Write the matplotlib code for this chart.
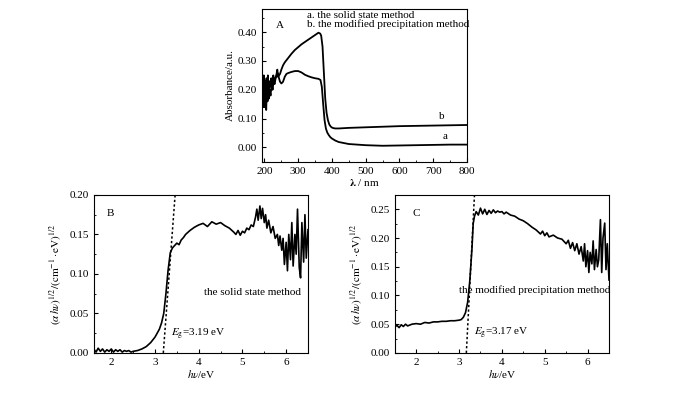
import matplotlib
matplotlib.use("Agg")
import matplotlib.pyplot as plt
from matplotlib.ticker import MultipleLocator, FormatStrFormatter

plt.rcParams["font.family"] = ["Liberation Serif", "DejaVu Serif"]
plt.rcParams["mathtext.fontset"] = "stix"
plt.rcParams["font.size"] = 8

# ---- panel A: absorbance spectra ----
wl_a = [195, 197, 199, 201, 203, 205, 207, 209, 211, 213, 215, 218, 221, 224, 227, 230,
        233, 236, 238, 240, 243, 246, 250, 255, 260, 265, 270, 280, 290, 300, 310, 320,
        330, 340, 350, 360, 366, 370, 374, 378, 382, 386, 390, 395, 400, 410, 420, 450,
        500, 550, 600, 650, 700, 750, 800]
abs_a = [0.19, 0.14, 0.24, 0.15, 0.21, 0.13, 0.20, 0.16, 0.22, 0.17, 0.20, 0.18, 0.22,
         0.20, 0.23, 0.22, 0.24, 0.25, 0.26, 0.255, 0.24, 0.228, 0.222, 0.228, 0.245,
         0.255, 0.258, 0.262, 0.265, 0.265, 0.26, 0.252, 0.247, 0.243, 0.240, 0.238,
         0.234, 0.21, 0.15, 0.095, 0.066, 0.052, 0.044, 0.036, 0.031, 0.024, 0.019,
         0.012, 0.008, 0.006, 0.007, 0.008, 0.009, 0.010, 0.010]

wl_b = [195, 196, 198, 200, 202, 204, 206, 208, 210, 212, 214, 217, 220, 223, 226, 229,
        232, 235, 238, 240, 243, 246, 250, 255, 260, 270, 280, 290, 300, 310, 320, 330,
        340, 350, 355, 360, 365, 368, 372, 376, 380, 384, 388, 392, 396, 400, 405, 410,
        420, 450, 500, 550, 600, 650, 700, 750, 800]
abs_b = [0.21, 0.16, 0.25, 0.14, 0.23, 0.17, 0.24, 0.18, 0.25, 0.19, 0.23, 0.21, 0.24,
         0.22, 0.25, 0.23, 0.24, 0.25, 0.27, 0.245, 0.25, 0.255, 0.27, 0.285, 0.295,
         0.31, 0.325, 0.338, 0.348, 0.358, 0.366, 0.374, 0.382, 0.39, 0.394, 0.398,
         0.395, 0.388, 0.35, 0.26, 0.17, 0.12, 0.095, 0.080, 0.073, 0.069, 0.067, 0.066,
         0.066, 0.068, 0.070, 0.072, 0.074, 0.075, 0.076, 0.077, 0.078]

# ---- panel B: solid state method, Tauc plot ----
e_b = [1.6, 1.65, 1.7, 1.75, 1.8, 1.85, 1.9, 1.95, 2.0, 2.05, 2.1, 2.15, 2.2, 2.25, 2.3,
       2.35, 2.4, 2.45, 2.5, 2.6, 2.7, 2.8, 2.9, 3.0, 3.1, 3.15, 3.2, 3.25, 3.3, 3.35,
       3.4, 3.45, 3.5, 3.55, 3.6, 3.65, 3.7, 3.8, 3.9, 4.0, 4.1, 4.2, 4.3, 4.4, 4.5, 4.6,
       4.7, 4.8, 4.85, 4.9, 4.95, 5.0, 5.05, 5.1, 5.15, 5.2, 5.25, 5.3, 5.33, 5.36, 5.4,
       5.43, 5.46, 5.5, 5.53, 5.56, 5.6, 5.65, 5.7, 5.75, 5.8, 5.83, 5.86, 5.9, 5.93,
       5.96, 6.0, 6.03, 6.06, 6.1, 6.13, 6.16, 6.2, 6.23, 6.26, 6.3, 6.33, 6.36, 6.4,
       6.43, 6.46, 6.5]
f_b = [0.005, 0.001, 0.006, 0.002, 0.005, 0.001, 0.004, 0.002, 0.005, 0.001, 0.004,
       0.002, 0.004, 0.001, 0.003, 0.002, 0.003, 0.001, 0.002, 0.003, 0.005, 0.008,
       0.013, 0.020, 0.030, 0.038, 0.050, 0.075, 0.105, 0.127, 0.133, 0.136, 0.139,
       0.137, 0.143, 0.146, 0.150, 0.155, 0.159, 0.162, 0.164, 0.160, 0.166, 0.163,
       0.165, 0.161, 0.158, 0.153, 0.150, 0.155, 0.149, 0.154, 0.152, 0.158, 0.156,
       0.162, 0.160, 0.172, 0.182, 0.168, 0.186, 0.170, 0.183, 0.165, 0.175, 0.158,
       0.168, 0.152, 0.160, 0.145, 0.150, 0.136, 0.148, 0.130, 0.145, 0.112, 0.140,
       0.104, 0.150, 0.118, 0.165, 0.110, 0.150, 0.125, 0.182, 0.108, 0.095, 0.165,
       0.115, 0.175, 0.120, 0.156]
eg_b = 3.19

# ---- panel C: modified precipitation method, Tauc plot ----
e_c = [1.5, 1.55, 1.6, 1.65, 1.7, 1.75, 1.8, 1.9, 2.0, 2.1, 2.2, 2.3, 2.4, 2.5, 2.6,
       2.7, 2.8, 2.9, 3.0, 3.05, 3.1, 3.15, 3.2, 3.25, 3.3, 3.33, 3.36, 3.4, 3.45, 3.5,
       3.55, 3.6, 3.65, 3.7, 3.75, 3.8, 3.85, 3.9, 3.95, 4.0, 4.05, 4.1, 4.2, 4.3, 4.4,
       4.5, 4.6, 4.7, 4.8, 4.9, 4.95, 5.0, 5.05, 5.1, 5.2, 5.3, 5.4, 5.5, 5.55, 5.6,
       5.65, 5.7, 5.75, 5.8, 5.85, 5.9, 5.93, 5.96, 6.0, 6.03, 6.06, 6.1, 6.13, 6.16,
       6.2, 6.23, 6.26, 6.3, 6.33, 6.36, 6.4, 6.43, 6.46, 6.5]
f_c = [0.045, 0.048, 0.044, 0.049, 0.046, 0.050, 0.047, 0.050, 0.051, 0.050, 0.053,
       0.052, 0.054, 0.054, 0.055, 0.055, 0.056, 0.056, 0.057, 0.058, 0.062, 0.070,
       0.088, 0.125, 0.180, 0.225, 0.238, 0.246, 0.240, 0.252, 0.242, 0.250, 0.241,
       0.248, 0.243, 0.249, 0.244, 0.247, 0.245, 0.246, 0.242, 0.245, 0.240, 0.238,
       0.233, 0.230, 0.225, 0.219, 0.214, 0.207, 0.212, 0.204, 0.209, 0.202, 0.205,
       0.200, 0.198, 0.190, 0.196, 0.182, 0.192, 0.178, 0.190, 0.172, 0.185, 0.160,
       0.190, 0.150, 0.178, 0.140, 0.175, 0.155, 0.195, 0.145, 0.180, 0.150, 0.162,
       0.232, 0.140, 0.200, 0.226, 0.145, 0.190, 0.127]
eg_c = 3.17

ylab = r"$(\alpha\,h\nu)^{1/2}/(\mathrm{cm}^{-1}\cdot\mathrm{eV})^{1/2}$"


def style(ax):
    ax.tick_params(which="both", direction="in", top=False, right=False, labelsize=8)
    ax.tick_params(which="major", length=3)
    ax.tick_params(which="minor", length=1.5)
    for s in ax.spines.values():
        s.set_linewidth(0.8)


fig = plt.figure(figsize=(7, 3.93), dpi=100)

axA = fig.add_axes([0.374, 0.588, 0.293, 0.389])
axA.plot(wl_a, abs_a, color="black", lw=1.3)
axA.plot(wl_b, abs_b, color="black", lw=1.3)
axA.set_xlim(192, 800)
axA.set_ylim(-0.05, 0.48)
axA.xaxis.set_major_locator(MultipleLocator(100))
axA.xaxis.set_minor_locator(MultipleLocator(50))
axA.yaxis.set_major_locator(MultipleLocator(0.1))
axA.yaxis.set_minor_locator(MultipleLocator(0.05))
axA.yaxis.set_major_formatter(FormatStrFormatter("%.2f"))
axA.set_xlabel(r"$\boldsymbol{\lambda}$ / nm", fontsize=8, labelpad=1)
axA.set_ylabel("Absorbance/a.u.", fontsize=8, labelpad=2)
axA.text(245, 0.424, "A", ha="center", va="center", fontsize=8)
axA.text(325, 0.459, "a. the solid state method", ha="left", va="center", fontsize=8)
axA.text(325, 0.426, "b. the modified precipitation method", ha="left", va="center", fontsize=8)
axA.text(726, 0.107, "b", ha="center", va="center", fontsize=8)
axA.text(735, 0.038, "a", ha="center", va="center", fontsize=8)
style(axA)

axB = fig.add_axes([0.134, 0.102, 0.306, 0.402])
axB.plot(e_b, f_b, color="black", lw=1.2)
axB.plot([eg_b, 3.46], [0, 0.2], color="black", lw=1.1, ls=(0, (1.5, 1.5)))
axB.set_xlim(1.6, 6.5)
axB.set_ylim(0, 0.2)
axB.xaxis.set_major_locator(MultipleLocator(1))
axB.xaxis.set_minor_locator(MultipleLocator(0.5))
axB.yaxis.set_major_locator(MultipleLocator(0.05))
axB.yaxis.set_minor_locator(MultipleLocator(0.025))
axB.yaxis.set_major_formatter(FormatStrFormatter("%.2f"))
axB.set_xlabel(r"$h\nu$/eV", fontsize=8, labelpad=1)
axB.set_ylabel(ylab, fontsize=8, labelpad=4)
axB.text(1.98, 0.177, "B", ha="center", va="center", fontsize=8)
axB.text(4.11, 0.076, "the solid state method", ha="left", va="center", fontsize=8)
axB.text(3.37, 0.023, r"$E_{\mathrm{g}}$=3.19 eV", ha="left", va="center", fontsize=8)
style(axB)

axC = fig.add_axes([0.564, 0.102, 0.306, 0.402])
axC.plot(e_c, f_c, color="black", lw=1.2)
axC.plot([eg_c, 3.36], [0, 0.275], color="black", lw=1.1, ls=(0, (1.5, 1.5)))
axC.set_xlim(1.5, 6.5)
axC.set_ylim(0, 0.275)
axC.xaxis.set_major_locator(MultipleLocator(1))
axC.xaxis.set_minor_locator(MultipleLocator(0.5))
axC.yaxis.set_major_locator(MultipleLocator(0.05))
axC.yaxis.set_minor_locator(MultipleLocator(0.025))
axC.yaxis.set_major_formatter(FormatStrFormatter("%.2f"))
axC.set_xlabel(r"$h\nu$/eV", fontsize=8, labelpad=1)
axC.set_ylabel(ylab, fontsize=8, labelpad=4)
axC.text(2.0, 0.243, "C", ha="center", va="center", fontsize=8)
axC.text(3.0, 0.109, "the modified precipitation method", ha="left", va="center", fontsize=8)
axC.text(3.36, 0.034, r"$E_{\mathrm{g}}$=3.17 eV", ha="left", va="center", fontsize=8)
style(axC)

fig.savefig("out.png", dpi=100)
